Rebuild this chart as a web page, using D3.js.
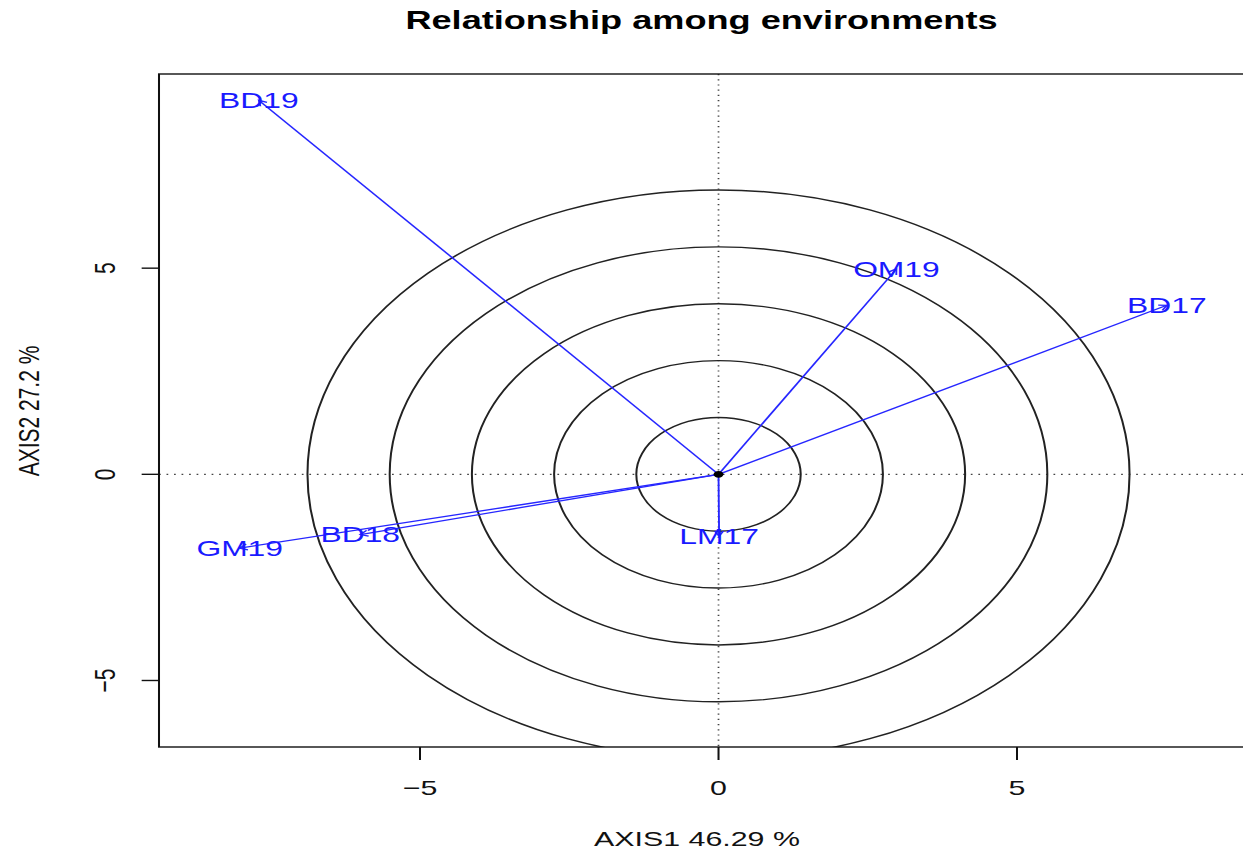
<!DOCTYPE html>
<html>
<head>
<meta charset="utf-8">
<script src="https://cdn.jsdelivr.net/npm/d3@7"></script>
<style>
  body { margin:0; background:#fff; }
  text { font-family:"Liberation Sans", Arial, sans-serif; }
</style>
</head>
<body>
<div id="chart"></div>
<script>
// environments and their biplot coordinates
var envs = ["BD17","BD18","BD19","GM19","LM17","OM19"];
var axis1 = [7.51, -6.00, -7.70, -8.02, 0.01, 2.98];
var axis2 = [4.10, -1.46, 9.07, -1.79, -1.50, 4.98];
var radii = [1.377, 2.754, 4.131, 5.508, 6.885];
var xTicks = [-5, 0, 5];
var yTicks = [-5, 0, 5];

var W = 1243, H = 854;
var sx = 1.4455;   // the picture is stretched horizontally

var svg = d3.select("#chart").append("svg")
  .attr("width", W).attr("height", H);

var g = svg.append("g").attr("transform", "scale(" + sx + ",1)");

var pLeft = 159 / sx, pRight = 1252 / sx, pTop = 74, pBottom = 747;

var x = d3.scaleLinear().domain([-9.372, 8.936]).range([pLeft, pRight]);
var y = d3.scaleLinear().domain([-6.613, 9.709]).range([pBottom, pTop]);

g.append("clipPath").attr("id", "clip")
  .append("rect")
    .attr("x", pLeft).attr("y", pTop)
    .attr("width", pRight - pLeft).attr("height", pBottom - pTop);

var plot = g.append("g").attr("clip-path", "url(#clip)");

// dotted axes through origin
plot.append("line")
  .attr("x1", pLeft).attr("x2", pRight)
  .attr("y1", y(0)).attr("y2", y(0))
  .attr("stroke", "#444").attr("stroke-width", 1.2)
  .attr("stroke-dasharray", "1.2,4");
plot.append("line")
  .attr("x1", x(0)).attr("x2", x(0))
  .attr("y1", pTop).attr("y2", pBottom)
  .attr("stroke", "#444").attr("stroke-width", 1.2)
  .attr("stroke-dasharray", "1.2,4");

// concentric circles
plot.selectAll("circle.ring")
  .data(radii).enter()
  .append("circle")
    .attr("class", "ring")
    .attr("cx", x(0)).attr("cy", y(0))
    .attr("r", function(d) { return x(d) - x(0); })
    .attr("fill", "none")
    .attr("stroke", "#222")
    .attr("stroke-width", 1.4);

var pts = envs.map(function(e, i) { return { env:e, a1:axis1[i], a2:axis2[i] }; });

// vectors
plot.selectAll("line.vec")
  .data(pts).enter()
  .append("line")
    .attr("class", "vec")
    .attr("x1", x(0)).attr("y1", y(0))
    .attr("x2", function(d) { return x(d.a1); })
    .attr("y2", function(d) { return y(d.a2); })
    .attr("stroke", "#2626ff")
    .attr("stroke-width", 1.3);

// small arrow heads
plot.selectAll("path.head")
  .data(pts).enter()
  .append("path")
    .attr("class", "head")
    .attr("d", function(d) {
      var x1 = x(d.a1), y1 = y(d.a2);
      var ang = Math.atan2(y1 - y(0), x1 - x(0));
      var L = 6, s = Math.PI / 6;
      var ax = x1 - L * Math.cos(ang - s), ay = y1 - L * Math.sin(ang - s);
      var bx = x1 - L * Math.cos(ang + s), by = y1 - L * Math.sin(ang + s);
      return "M" + ax + "," + ay + "L" + x1 + "," + y1 + "L" + bx + "," + by;
    })
    .attr("fill", "none")
    .attr("stroke", "#2626ff")
    .attr("stroke-width", 1.3);

plot.append("circle")
  .attr("cx", x(0)).attr("cy", y(0)).attr("r", 3.4)
  .attr("fill", "#000");

// environment labels
plot.selectAll("text.lab")
  .data(pts).enter()
  .append("text")
    .attr("class", "lab")
    .attr("x", function(d) { return x(d.a1); })
    .attr("y", function(d) { return y(d.a2); })
    .attr("dy", "0.36em")
    .attr("text-anchor", "middle")
    .attr("fill", "#1a1aff")
    .attr("font-size", 22)
    .text(function(d) { return d.env; });

// frame
g.append("rect")
  .attr("x", pLeft).attr("y", pTop)
  .attr("width", pRight - pLeft).attr("height", pBottom - pTop)
  .attr("fill", "none").attr("stroke", "#111").attr("stroke-width", 1.4);

// x axis
var xa = g.append("g");
xa.selectAll("line").data(xTicks).enter().append("line")
  .attr("x1", function(d) { return x(d); }).attr("x2", function(d) { return x(d); })
  .attr("y1", pBottom).attr("y2", pBottom + 13)
  .attr("stroke", "#111").attr("stroke-width", 1.4);
xa.selectAll("text").data(xTicks).enter().append("text")
  .attr("x", function(d) { return x(d); })
  .attr("y", 795)
  .attr("text-anchor", "middle")
  .attr("font-size", 21)
  .attr("fill", "#111")
  .text(function(d) { return d < 0 ? "\u2212" + Math.abs(d) : d; });

// y axis
var ya = g.append("g");
ya.selectAll("line").data(yTicks).enter().append("line")
  .attr("x1", pLeft).attr("x2", pLeft - 12)
  .attr("y1", function(d) { return y(d); }).attr("y2", function(d) { return y(d); })
  .attr("stroke", "#111").attr("stroke-width", 1.4);
ya.selectAll("text").data(yTicks).enter().append("text")
  .attr("transform", function(d) { return "translate(" + (115 / sx) + "," + y(d) + ") rotate(-90)"; })
  .attr("text-anchor", "middle")
  .attr("font-size", 21)
  .attr("fill", "#111")
  .text(function(d) { return d < 0 ? "\u2212" + Math.abs(d) : d; });

// titles
g.append("text")
  .attr("x", 701.5 / sx).attr("y", 29)
  .attr("text-anchor", "middle")
  .attr("font-size", 25).attr("font-weight", "bold")
  .attr("fill", "#000")
  .text("Relationship among environments");

g.append("text")
  .attr("x", 697 / sx).attr("y", 846)
  .attr("text-anchor", "middle")
  .attr("font-size", 21).attr("fill", "#111")
  .text("AXIS1 46.29 %");

g.append("text")
  .attr("transform", "translate(" + (39 / sx) + "," + 411 + ") rotate(-90)")
  .attr("text-anchor", "middle")
  .attr("font-size", 21).attr("fill", "#111")
  .text("AXIS2 27.2 %");
</script>
</body>
</html>
